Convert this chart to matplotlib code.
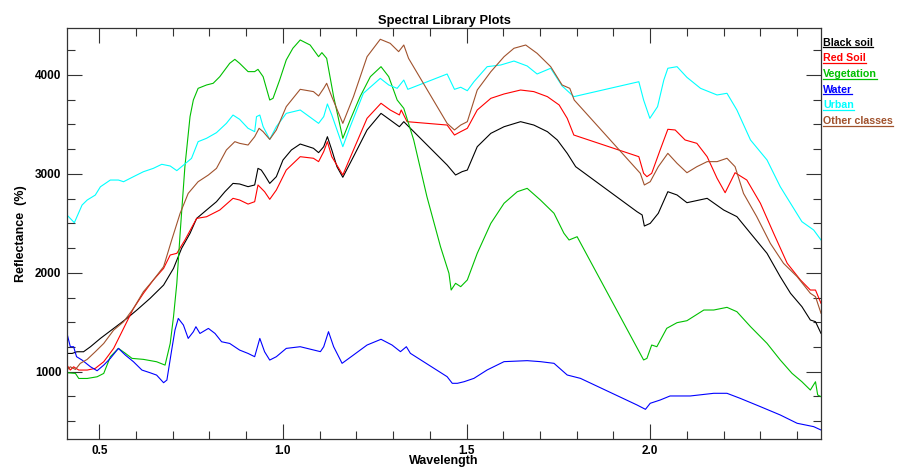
import matplotlib
matplotlib.use("Agg")
import matplotlib.pyplot as plt
from matplotlib.ticker import MultipleLocator
from matplotlib.lines import Line2D

plt.rcParams['font.family'] = ['Liberation Sans', 'DejaVu Sans']

# ---------------- data ----------------
black_w = [0.412, 0.426, 0.439, 0.457, 0.476, 0.503, 0.539, 0.575, 0.602, 0.638, 0.675, 0.702,
           0.724, 0.747, 0.765, 0.792, 0.819, 0.842, 0.864, 0.882, 0.905, 0.923, 0.932, 0.941,
           0.950, 0.964, 0.982, 1.000, 1.023, 1.047, 1.083, 1.097, 1.111, 1.121, 1.133, 1.147,
           1.163, 1.192, 1.229, 1.267, 1.292, 1.317, 1.329, 1.447, 1.470, 1.488, 1.502, 1.529,
           1.566, 1.602, 1.647, 1.683, 1.720, 1.747, 1.774, 1.797, 1.964, 1.978, 1.984, 2.000,
           2.022, 2.048, 2.073, 2.100, 2.155, 2.200, 2.236, 2.273, 2.318, 2.354, 2.382, 2.413,
           2.436, 2.450, 2.465]
black_v = [1185, 1185, 1202, 1202, 1253, 1337, 1438, 1539, 1623, 1741, 1876, 2045,
           2247, 2399, 2550, 2635, 2719, 2820, 2904, 2898, 2871, 2888, 3056, 3039,
           2989, 2904, 2972, 3140, 3242, 3302, 3259, 3215, 3275, 3376, 3242, 3073,
           2966, 3174, 3444, 3612, 3545, 3477, 3528, 3090, 2989, 3023, 3039, 3275,
           3410, 3477, 3528, 3494, 3427, 3343, 3208, 3073, 2618, 2585, 2473, 2500,
           2602, 2820, 2787, 2709, 2753, 2635, 2568, 2400, 2197, 1961, 1793, 1658,
           1523, 1506, 1388]

red_w = [0.412, 0.421, 0.430, 0.444, 0.467, 0.489, 0.512, 0.539, 0.566, 0.593, 0.620, 0.647,
         0.675, 0.693, 0.711, 0.733, 0.765, 0.792, 0.828, 0.864, 0.882, 0.905, 0.923, 0.932,
         0.941, 0.950, 0.964, 0.982, 1.009, 1.047, 1.083, 1.097, 1.111, 1.121, 1.133, 1.163,
         1.192, 1.229, 1.267, 1.292, 1.317, 1.322, 1.338, 1.447, 1.467, 1.484, 1.502, 1.529,
         1.566, 1.602, 1.647, 1.683, 1.720, 1.752, 1.774, 1.792, 1.969, 1.982, 1.991, 2.004,
         2.027, 2.048, 2.068, 2.095, 2.127, 2.155, 2.182, 2.204, 2.231, 2.263, 2.300, 2.336,
         2.373, 2.409, 2.436, 2.450, 2.465]
red_v = [1067, 1017, 1050, 1017, 1017, 1034, 1101, 1236, 1438, 1640, 1792, 1927,
         2045, 2180, 2197, 2331, 2550, 2567, 2635, 2753, 2736, 2695, 2719, 2888,
         2854, 2820, 2743, 2837, 3039, 3174, 3158, 3124, 3225, 3326, 3174, 2989,
         3242, 3562, 3714, 3646, 3596, 3646, 3528, 3494, 3393, 3427, 3461, 3646,
         3764, 3808, 3848, 3832, 3781, 3697, 3562, 3393, 3174, 3006, 2972, 3006,
         3242, 3451, 3444, 3343, 3309, 3174, 2956, 2810, 3012, 2938, 2703, 2400,
         2096, 1928, 1826, 1826, 1692]

veg_w = [0.412, 0.435, 0.444, 0.467, 0.494, 0.512, 0.530, 0.552, 0.571, 0.589, 0.620, 0.656,
         0.679, 0.693, 0.702, 0.711, 0.720, 0.733, 0.747, 0.756, 0.769, 0.792, 0.810, 0.828,
         0.855, 0.869, 0.882, 0.905, 0.923, 0.932, 0.946, 0.964, 0.973, 0.991, 1.009, 1.027,
         1.047, 1.074, 1.097, 1.106, 1.119, 1.138, 1.163, 1.183, 1.210, 1.238, 1.267, 1.288,
         1.311, 1.329, 1.356, 1.392, 1.429, 1.452, 1.458, 1.470, 1.484, 1.502, 1.529, 1.566,
         1.602, 1.638, 1.665, 1.701, 1.738, 1.765, 1.779, 1.801, 1.982, 1.991, 2.004, 2.018,
         2.045, 2.073, 2.100, 2.146, 2.173, 2.209, 2.236, 2.273, 2.318, 2.354, 2.386, 2.413,
         2.436, 2.450, 2.456, 2.465]
veg_v = [990, 983, 932, 932, 949, 983, 1152, 1236, 1186, 1135, 1125, 1101,
         1067, 1286, 1556, 1893, 2399, 3073, 3579, 3747, 3865, 3899, 3916, 3983,
         4118, 4158, 4118, 4034, 4034, 4057, 3983, 3747, 3764, 3949, 4152, 4270,
         4354, 4303, 4185, 4226, 4168, 3781, 3360, 3545, 3781, 3983, 4084, 3983,
         3747, 3663, 3343, 2770, 2264, 1995, 1826, 1894, 1860, 1928, 2197, 2500,
         2703, 2820, 2854, 2736, 2602, 2400, 2332, 2365, 1119, 1135, 1270, 1253,
         1439, 1496, 1516, 1624, 1624, 1651, 1607, 1456, 1287, 1119, 984, 899,
         815, 899, 765, 748]

water_w = [0.412, 0.421, 0.430, 0.438, 0.453, 0.476, 0.494, 0.512, 0.530, 0.552, 0.571, 0.593,
           0.616, 0.638, 0.656, 0.675, 0.684, 0.697, 0.706, 0.715, 0.729, 0.742, 0.756, 0.763,
           0.774, 0.797, 0.815, 0.833, 0.855, 0.882, 0.905, 0.923, 0.937, 0.950, 0.964, 0.982,
           1.009, 1.047, 1.102, 1.111, 1.124, 1.138, 1.161, 1.192, 1.229, 1.267, 1.297, 1.320,
           1.336, 1.347, 1.447, 1.461, 1.475, 1.493, 1.520, 1.556, 1.602, 1.665, 1.701, 1.738,
           1.774, 1.810, 1.964, 1.987, 2.000, 2.027, 2.054, 2.109, 2.173, 2.209, 2.245, 2.300,
           2.354, 2.400, 2.445, 2.465]
water_v = [1387, 1253, 1253, 1152, 1118, 1050, 1010, 1067, 1135, 1236, 1168, 1101,
           1017, 990, 966, 889, 916, 1219, 1421, 1539, 1472, 1337, 1404, 1455,
           1387, 1438, 1387, 1303, 1286, 1219, 1185, 1152, 1337, 1202, 1118, 1152,
           1236, 1253, 1203, 1253, 1405, 1253, 1085, 1169, 1270, 1328, 1270, 1203,
           1253, 1186, 950, 883, 883, 899, 933, 1018, 1102, 1112, 1102, 1085,
           967, 933, 664, 620, 681, 714, 755, 755, 782, 782, 731, 647,
           563, 479, 445, 411]

urban_w = [0.412, 0.432, 0.453, 0.467, 0.489, 0.503, 0.530, 0.552, 0.566, 0.593, 0.620, 0.647,
           0.670, 0.693, 0.711, 0.724, 0.751, 0.769, 0.792, 0.819, 0.846, 0.864, 0.882, 0.905,
           0.923, 0.928, 0.937, 0.946, 0.964, 0.982, 1.009, 1.047, 1.097, 1.111, 1.121, 1.133,
           1.163, 1.183, 1.219, 1.265, 1.288, 1.311, 1.329, 1.340, 1.447, 1.467, 1.484, 1.502,
           1.520, 1.556, 1.593, 1.629, 1.665, 1.692, 1.729, 1.760, 1.792, 1.969, 1.982, 1.999,
           2.020, 2.037, 2.048, 2.073, 2.100, 2.137, 2.182, 2.209, 2.236, 2.273, 2.318, 2.354,
           2.382, 2.413, 2.445, 2.465]
urban_v = [2584, 2507, 2685, 2736, 2786, 2870, 2938, 2938, 2921, 2972, 3022, 3056,
           3097, 3080, 3033, 3073, 3157, 3326, 3360, 3417, 3511, 3595, 3552, 3461,
           3427, 3579, 3595, 3478, 3349, 3478, 3612, 3646, 3511, 3579, 3707, 3596,
           3275, 3477, 3815, 3966, 3899, 3865, 3949, 3855, 4010, 3855, 3876, 3841,
           3932, 4084, 4101, 4141, 4091, 4010, 4068, 3889, 3781, 3932, 3747, 3562,
           3680, 3949, 4068, 4084, 3976, 3865, 3798, 3815, 3646, 3343, 3141, 2871,
           2703, 2517, 2433, 2332]

other_w = [0.412, 0.421, 0.435, 0.448, 0.467, 0.489, 0.512, 0.539, 0.566, 0.593, 0.620, 0.647,
           0.675, 0.697, 0.720, 0.742, 0.769, 0.797, 0.819, 0.846, 0.869, 0.882, 0.905, 0.923,
           0.935, 0.946, 0.964, 0.982, 1.009, 1.047, 1.083, 1.097, 1.111, 1.119, 1.133, 1.163,
           1.192, 1.229, 1.265, 1.292, 1.315, 1.329, 1.342, 1.447, 1.467, 1.484, 1.502, 1.529,
           1.566, 1.602, 1.629, 1.661, 1.692, 1.729, 1.760, 1.781, 1.793, 1.973, 1.984, 2.000,
           2.022, 2.048, 2.073, 2.100, 2.127, 2.155, 2.182, 2.209, 2.231, 2.254, 2.290, 2.327,
           2.363, 2.400, 2.436, 2.450, 2.465]
other_v = [1017, 1050, 1023, 1084, 1125, 1202, 1286, 1421, 1505, 1640, 1809, 1927,
           2062, 2331, 2601, 2803, 2921, 2989, 3056, 3242, 3326, 3309, 3292, 3376,
           3461, 3427, 3349, 3444, 3680, 3855, 3832, 3788, 3865, 3916, 3781, 3511,
           3781, 4185, 4361, 4320, 4236, 4303, 4168, 3511, 3444, 3494, 3528, 3848,
           4033, 4185, 4270, 4303, 4219, 4084, 3899, 3865, 3747, 3006, 2888, 2921,
           3073, 3208, 3107, 3012, 3073, 3124, 3124, 3158, 3073, 2803, 2568, 2298,
           2096, 1961, 1793, 1759, 1591]

labels = ["Black soil", "Red Soil", "Vegetation", "Water", "Urban", "Other classes"]
colors = ["#000000", "#ff0000", "#00c000", "#0000ff", "#00ffff", "#a0522d"]

x_ticks = [0.5, 1.0, 1.5, 2.0]
x_ticklabels = ["0.5", "1.0", "1.5", "2.0"]
y_ticks = [1000, 2000, 3000, 4000]
y_ticklabels = ["1000", "2000", "3000", "4000"]

# ---------------- plot ----------------
W, H = 901, 467
fig = plt.figure(figsize=(W / 100, H / 100), dpi=100)
ax = fig.add_axes([67 / W, 1 - 439 / H, (821 - 67) / W, (439 - 28) / H])

series = [(black_w, black_v), (red_w, red_v), (veg_w, veg_v),
          (water_w, water_v), (urban_w, urban_v), (other_w, other_v)]
for (wv, vv), c in zip(series, colors):
    ax.plot(wv, vv, color=c, lw=0.8)

ax.set_xlim(0.412, 2.465)
ax.set_ylim(320, 4475)

ax.set_xticks(x_ticks)
ax.set_xticklabels(x_ticklabels)
ax.set_yticks(y_ticks)
ax.set_yticklabels(y_ticklabels)
ax.xaxis.set_minor_locator(MultipleLocator(0.1))
ax.yaxis.set_minor_locator(MultipleLocator(250))

ax.tick_params(which='both', direction='in', top=True, right=True, color='#333333', width=0.8)
ax.tick_params(which='major', length=11, labelsize=8.5, pad=4)
ax.tick_params(which='minor', length=6)
for lab in ax.get_xticklabels() + ax.get_yticklabels():
    lab.set_fontweight('bold')

for sp in ax.spines.values():
    sp.set_linewidth(0.9)
    sp.set_color('#333333')

ax.set_title("Spectral Library Plots", fontsize=9.3, fontweight='bold', pad=3)
ax.set_xlabel("Wavelength", fontsize=9, fontweight='bold', labelpad=-1)
ax.set_ylabel("Reflectance  (%)", fontsize=9, fontweight='bold', labelpad=6)

# legend as underlined coloured labels to the right of the axes
texts = []
y0 = 42.7
for i, (lab, c) in enumerate(zip(labels, colors)):
    t = fig.text(823 / W, 1 - (y0 + i * 15.7) / H, lab, color=c, fontsize=7.7,
                 fontweight='bold', ha='left', va='center')
    texts.append((t, c))

fig.canvas.draw()
renderer = fig.canvas.get_renderer()
for t, c in texts:
    bb = t.get_window_extent(renderer)
    yline = (bb.y0 + 0.5) / H
    fig.add_artist(Line2D([bb.x0 / W, bb.x1 / W], [yline, yline],
                          transform=fig.transFigure, color=c, lw=0.9))

fig.savefig("out.png", dpi=100)
